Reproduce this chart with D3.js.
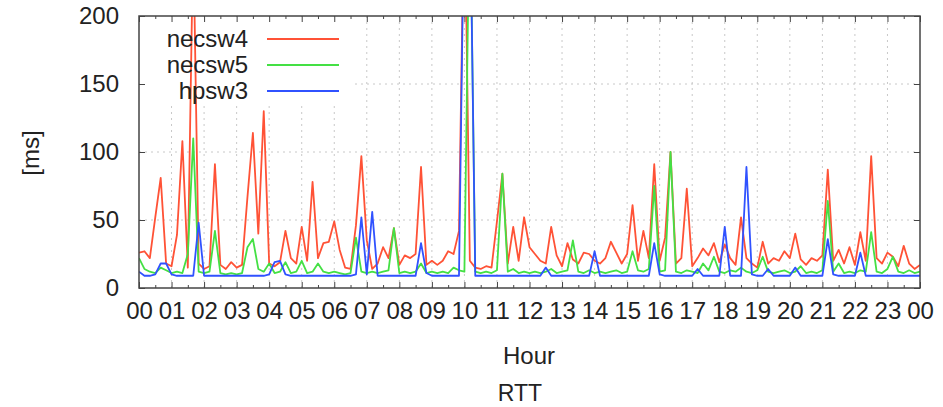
<!DOCTYPE html>
<html>
<head>
<meta charset="utf-8">
<script src="https://cdn.jsdelivr.net/npm/d3@7"></script>
<style>
body { margin: 0; background: #fff; }
text { font-family: "Liberation Sans", Arial, sans-serif; fill: #222; }
</style>
</head>
<body>
<script>
// RTT samples, one every 10 minutes from 00:00 to 24:00
var necsw4 = [26,27,22,52,81,18,16,39,108,15,260,18,14,16,91,17,14,19,15,17,
  67,114,40,130,18,16,19,42,22,18,45,20,78,22,33,34,49,28,15,14,
  46,97,35,14,18,30,22,44,17,24,22,25,89,17,20,17,20,27,25,42,
  300,20,15,14,16,15,49,84,18,45,20,52,30,25,20,18,45,24,16,33,
  21,18,26,25,20,18,22,34,26,18,25,61,20,42,22,91,20,37,100,18,
  22,73,16,22,29,24,33,19,32,22,17,52,22,18,15,34,18,22,20,27,
  22,40,21,17,22,20,24,87,20,28,18,30,17,41,20,97,22,18,26,23,
  16,31,18,14,17];
var necsw5 = [22,14,12,11,15,13,11,12,11,25,110,12,11,12,42,11,10,11,10,11,
  30,36,14,12,18,11,12,19,11,12,20,11,12,18,12,11,12,11,10,11,
  37,12,11,12,11,12,13,44,11,12,11,12,18,11,12,11,12,11,15,13,
  12,300,12,11,12,11,13,84,12,14,11,12,11,12,11,12,14,11,12,13,
  35,12,11,13,11,12,11,12,13,11,12,27,13,12,14,75,12,13,100,12,
  11,13,12,11,18,13,23,12,11,13,12,15,12,11,13,23,12,11,12,13,
  11,12,16,11,12,11,13,64,12,18,11,12,11,13,12,41,12,11,14,23,
  12,11,13,11,12];
var hpsw3 = [12,9,9,10,18,18,10,9,9,9,9,48,9,9,9,9,9,9,9,9,
  9,9,9,9,10,19,20,10,9,9,9,9,9,9,9,9,9,9,9,9,
  10,52,10,56,9,9,9,9,9,9,9,9,33,11,9,9,9,9,9,9,
  300,300,9,9,9,9,9,9,9,9,9,9,9,9,9,15,9,9,9,9,
  9,9,9,9,27,9,9,9,9,9,9,9,9,9,9,33,10,9,9,9,
  9,9,9,14,9,9,9,9,45,9,9,9,89,10,9,9,14,9,9,9,
  9,15,9,9,9,9,9,36,10,9,9,9,9,26,9,9,9,9,9,9,
  9,9,9,9,9];
var seriesNames = ["necsw4", "necsw5", "hpsw3"];
var seriesColors = ["#ff5236", "#44e044", "#3052ff"];
var hourLabels = d3.range(0, 25).map(function(h) { return h % 24 < 10 ? "0" + (h % 24) : "" + (h % 24); });
var yTicks = [0, 50, 100, 150, 200];

var width = 943;
var height = 407;
var margin = { top: 16, left: 139, right: 23, bottom: 119 };

var svg = d3.select("body")
  .append("svg")
  .attr("width", width)
  .attr("height", height);

var xScale = d3.scaleLinear()
  .domain([0, 24])
  .range([margin.left, width - margin.right]);

var yScale = d3.scaleLinear()
  .domain([0, 200])
  .range([height - margin.bottom, margin.top]);

svg.append("defs").append("clipPath").attr("id", "plot")
  .append("rect")
  .attr("x", margin.left).attr("y", margin.top)
  .attr("width", xScale(24) - xScale(0))
  .attr("height", yScale(0) - yScale(200));

// dashed grid
var grid = svg.append("g").attr("stroke", "#c8c8c8").attr("stroke-dasharray", "2,4").attr("stroke-width", 1);
grid.selectAll(".gx").data(d3.range(1, 24)).enter().append("line")
  .attr("x1", function(d) { return xScale(d); }).attr("x2", function(d) { return xScale(d); })
  .attr("y1", yScale(0)).attr("y2", yScale(200));
grid.selectAll(".gy").data([50, 100, 150]).enter().append("line")
  .attr("x1", xScale(0)).attr("x2", xScale(24))
  .attr("y1", function(d) { return yScale(d); }).attr("y2", function(d) { return yScale(d); });

// key background hides the grid
svg.append("rect").attr("x", 140).attr("y", 17).attr("width", 212).attr("height", 87).attr("fill", "#fff");

// axes, ticks pointing inward
var xBottom = svg.append("g")
  .attr("transform", `translate(0,${yScale(0)})`)
  .call(d3.axisBottom(xScale).tickValues(d3.range(0, 25)).tickFormat(function(d, i) { return hourLabels[i]; })
    .tickSize(-6).tickPadding(14));
svg.append("g")
  .attr("transform", `translate(0,${yScale(0)})`)
  .call(d3.axisBottom(xScale).tickValues(d3.range(0.5, 24, 1)).tickFormat("").tickSize(-3));
svg.append("g")
  .attr("transform", `translate(0,${yScale(200)})`)
  .call(d3.axisTop(xScale).tickValues(d3.range(0, 25)).tickFormat("").tickSize(-6));
svg.append("g")
  .attr("transform", `translate(0,${yScale(200)})`)
  .call(d3.axisTop(xScale).tickValues(d3.range(0.5, 24, 1)).tickFormat("").tickSize(-3));
var yLeft = svg.append("g")
  .attr("transform", `translate(${xScale(0)},0)`)
  .call(d3.axisLeft(yScale).tickValues(yTicks).tickSize(-6).tickPadding(20));
svg.append("g")
  .attr("transform", `translate(${xScale(24)},0)`)
  .call(d3.axisRight(yScale).tickValues(yTicks).tickFormat("").tickSize(-6));

svg.selectAll(".domain").remove();
svg.selectAll(".tick line").attr("stroke", "#444");
xBottom.selectAll("text").attr("font-size", "24px").attr("fill", "#222").attr("font-family", "Liberation Sans, Arial, sans-serif");
yLeft.selectAll("text").attr("font-size", "24px").attr("fill", "#222").attr("font-family", "Liberation Sans, Arial, sans-serif");

// lines
var line = d3.line()
  .x(function(d, i) { return xScale(i / 6); })
  .y(function(d) { return yScale(d); });

var lines = svg.append("g").attr("clip-path", "url(#plot)");
[necsw4, necsw5, hpsw3].forEach(function(s, k) {
  lines.append("path").datum(s).attr("d", line)
    .attr("fill", "none")
    .attr("stroke", seriesColors[k])
    .attr("stroke-width", 1.8)
    .attr("stroke-linejoin", "round");
});

// border
svg.append("rect")
  .attr("x", xScale(0)).attr("y", yScale(200))
  .attr("width", xScale(24) - xScale(0)).attr("height", yScale(0) - yScale(200))
  .attr("fill", "none").attr("stroke", "#444").attr("stroke-width", 1.5);

// key
var key = svg.append("g");
seriesNames.forEach(function(n, k) {
  var ky = 39 + k * 26;
  key.append("text").attr("x", 248).attr("y", ky).attr("dy", "0.35em")
    .attr("text-anchor", "end").attr("font-size", "24px").text(n);
  key.append("line").attr("x1", 267).attr("x2", 339).attr("y1", ky).attr("y2", ky)
    .attr("stroke", seriesColors[k]).attr("stroke-width", 1.8);
});

// labels
svg.append("text").attr("x", 529).attr("y", 356).attr("dy", "0.35em")
  .attr("text-anchor", "middle").attr("font-size", "24px").text("Hour");
svg.append("text").attr("x", 520).attr("y", 393).attr("dy", "0.35em")
  .attr("text-anchor", "middle").attr("font-size", "23px").text("RTT");
svg.append("text").attr("transform", "translate(31,153) rotate(-90)").attr("dy", "0.35em")
  .attr("text-anchor", "middle").attr("font-size", "24px").text("[ms]");
</script>
</body>
</html>
